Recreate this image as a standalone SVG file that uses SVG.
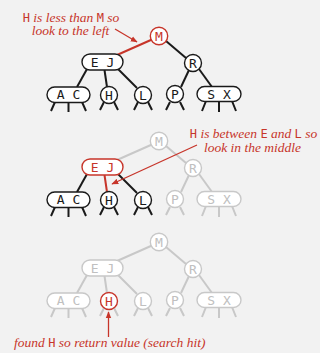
<svg xmlns="http://www.w3.org/2000/svg" width="320" height="353" viewBox="0 0 320 353">
<defs>
<style>
.bg{fill:#f2f2f2}
.n{fill:#fff;stroke-width:1.4}
.nb{stroke:#1a1a1a}
.ng{stroke:#c8c8c8}
.nr{stroke:#c7352a}
.t{font-family:"DejaVu Sans Mono","Liberation Mono",monospace;font-size:13px;text-anchor:middle}
.tb{fill:#1a1a1a}
.tg{fill:#c0c0c0}
.tr{fill:#c7352a}
.e{stroke-width:2;fill:none;stroke-linecap:butt}
.eb{stroke:#1a1a1a}
.eg{stroke:#c8c8c8}
.er{stroke:#c7352a}
.ann{font-family:"Liberation Serif","DejaVu Serif",serif;font-style:italic;font-size:13.5px;fill:#c7352a}
.k{font-family:"DejaVu Sans Mono","Liberation Mono",monospace;font-style:normal;font-size:12px}
.arr{stroke:#c7352a;stroke-width:1.3;fill:none}
</style>
<marker id="ah" viewBox="0 0 10 10" refX="9" refY="5" markerWidth="7" markerHeight="7" markerUnits="userSpaceOnUse" orient="auto">
<path d="M0,1 L10,5 L0,9 Z" fill="#c7352a"/>
</marker>
</defs>
<rect class="bg" x="0" y="0" width="320" height="353"/>

<!-- Tree 1 -->
<g id="tree1">
<g id="t1-edges">
<line class="e er" x1="152" y1="39.5" x2="117" y2="55"/>
<line class="e eb" x1="166" y1="41" x2="186" y2="58"/>
<line class="e eb" x1="87" y1="69" x2="77" y2="87"/>
<line class="e eb" x1="104.5" y1="70" x2="107" y2="87"/>
<line class="e eb" x1="117" y1="68" x2="137" y2="88"/>
<line class="e eb" x1="189" y1="70" x2="181" y2="87"/>
<line class="e eb" x1="199" y1="69" x2="212" y2="87"/>
<path class="e eb" d="M55,102L51,111M68.5,102V112M82,102L86,111M104,102L100,110M114,102L118,110M138,102L134,110M148,102L152,110M170,102L166,110M180,102L184,110M206,101L202,111M219,101V112M232,101L236,111"/>
</g>
<g id="t1-M"><circle class="n nr" cx="159" cy="36" r="8.7"/><text class="t tr" x="159" y="40.5">M</text></g>
<g id="t1-EJ"><rect class="n nb" x="82" y="54" width="41" height="16" rx="8"/><text class="t tb" x="102.5" y="66.5">E J</text></g>
<g id="t1-R"><circle class="n nb" cx="193" cy="63" r="8.5"/><text class="t tb" x="193" y="67.5">R</text></g>
<g id="t1-AC"><rect class="n nb" x="47" y="87" width="43" height="15.5" rx="7.7"/><text class="t tb" x="68.5" y="99.3">A C</text></g>
<g id="t1-H"><circle class="n nb" cx="109" cy="95" r="8.5"/><text class="t tb" x="109" y="99.5">H</text></g>
<g id="t1-L"><circle class="n nb" cx="143" cy="95" r="8.5"/><text class="t tb" x="143" y="99.5">L</text></g>
<g id="t1-P"><circle class="n nb" cx="175" cy="94" r="8.5"/><text class="t tb" x="175" y="98.5">P</text></g>
<g id="t1-SX"><rect class="n nb" x="197" y="86.5" width="44" height="15" rx="7.5"/><text class="t tb" x="219" y="98.5">S X</text></g>
</g>

<!-- Tree 2 -->
<g id="tree2" transform="translate(0,105)">
<g id="t2-edges">
<line class="e eg" x1="152" y1="39.5" x2="117" y2="55"/>
<line class="e eg" x1="166" y1="41" x2="186" y2="58"/>
<line class="e eb" x1="87" y1="69" x2="77" y2="87"/>
<line class="e er" x1="104.5" y1="70" x2="107" y2="87"/>
<line class="e eb" x1="117" y1="68" x2="137" y2="88"/>
<line class="e eg" x1="189" y1="70" x2="181" y2="87"/>
<line class="e eg" x1="199" y1="69" x2="212" y2="87"/>
<path class="e eb" d="M55,102L51,111M68.5,102V112M82,102L86,111M104,102L100,110M114,102L118,110M138,102L134,110M148,102L152,110"/>
<path class="e eg" d="M170,102L166,110M180,102L184,110M206,101L202,111M219,101V112M232,101L236,111"/>
</g>
<g id="t2-M"><circle class="n ng" cx="159" cy="36" r="8.7"/><text class="t tg" x="159" y="40.5">M</text></g>
<g id="t2-EJ"><rect class="n nr" x="82" y="54" width="41" height="16" rx="8"/><text class="t tr" x="102.5" y="66.5">E J</text></g>
<g id="t2-R"><circle class="n ng" cx="193" cy="63" r="8.5"/><text class="t tg" x="193" y="67.5">R</text></g>
<g id="t2-AC"><rect class="n nb" x="47" y="87" width="43" height="15.5" rx="7.7"/><text class="t tb" x="68.5" y="99.3">A C</text></g>
<g id="t2-H"><circle class="n nb" cx="109" cy="95" r="8.5"/><text class="t tb" x="109" y="99.5">H</text></g>
<g id="t2-L"><circle class="n nb" cx="143" cy="95" r="8.5"/><text class="t tb" x="143" y="99.5">L</text></g>
<g id="t2-P"><circle class="n ng" cx="175" cy="94" r="8.5"/><text class="t tg" x="175" y="98.5">P</text></g>
<g id="t2-SX"><rect class="n ng" x="197" y="86.5" width="44" height="15" rx="7.5"/><text class="t tg" x="219" y="98.5">S X</text></g>
</g>

<!-- Tree 3 -->
<g id="tree3" transform="translate(0,206)">
<g id="t3-edges">
<line class="e eg" x1="152" y1="39.5" x2="117" y2="55"/>
<line class="e eg" x1="166" y1="41" x2="186" y2="58"/>
<line class="e eg" x1="87" y1="69" x2="77" y2="87"/>
<line class="e eg" x1="104.5" y1="70" x2="107" y2="87"/>
<line class="e eg" x1="117" y1="68" x2="137" y2="88"/>
<line class="e eg" x1="189" y1="70" x2="181" y2="87"/>
<line class="e eg" x1="199" y1="69" x2="212" y2="87"/>
<path class="e eg" d="M55,102L51,111M68.5,102V112M82,102L86,111M104,102L100,110M114,102L118,110M138,102L134,110M148,102L152,110M170,102L166,110M180,102L184,110M206,101L202,111M219,101V112M232,101L236,111"/>
</g>
<g id="t3-M"><circle class="n ng" cx="159" cy="36" r="8.7"/><text class="t tg" x="159" y="40.5">M</text></g>
<g id="t3-EJ"><rect class="n ng" x="82" y="54" width="41" height="16" rx="8"/><text class="t tg" x="102.5" y="66.5">E J</text></g>
<g id="t3-R"><circle class="n ng" cx="193" cy="63" r="8.5"/><text class="t tg" x="193" y="67.5">R</text></g>
<g id="t3-AC"><rect class="n ng" x="47" y="87" width="43" height="15.5" rx="7.7"/><text class="t tg" x="68.5" y="99.3">A C</text></g>
<g id="t3-H"><circle class="n nr" cx="109" cy="95" r="8.5"/><text class="t tr" x="109" y="99.5">H</text></g>
<g id="t3-L"><circle class="n ng" cx="143" cy="95" r="8.5"/><text class="t tg" x="143" y="99.5">L</text></g>
<g id="t3-P"><circle class="n ng" cx="175" cy="94" r="8.5"/><text class="t tg" x="175" y="98.5">P</text></g>
<g id="t3-SX"><rect class="n ng" x="197" y="86.5" width="44" height="15" rx="7.5"/><text class="t tg" x="219" y="98.5">S X</text></g>
</g>

<!-- Annotations -->
<g id="annotations">
<text class="ann" x="71" y="21.5" text-anchor="middle"><tspan class="k">H</tspan> is less than <tspan class="k">M</tspan> so</text>
<text class="ann" x="70.5" y="34.5" text-anchor="middle">look to the left</text>
<line class="arr" x1="115" y1="29" x2="137" y2="42" marker-end="url(#ah)"/>
<text class="ann" x="253.5" y="137.5" text-anchor="middle"><tspan class="k">H</tspan> is between <tspan class="k">E</tspan> and <tspan class="k">L</tspan> so</text>
<text class="ann" x="252.5" y="151.5" text-anchor="middle">look in the middle</text>
<line class="arr" x1="197" y1="145" x2="112" y2="184" marker-end="url(#ah)"/>
<line class="arr" x1="108.5" y1="337" x2="108.5" y2="312" marker-end="url(#ah)"/>
<text class="ann" x="14" y="347">found <tspan class="k">H</tspan> so return value (search hit)</text>
</g>
</svg>
